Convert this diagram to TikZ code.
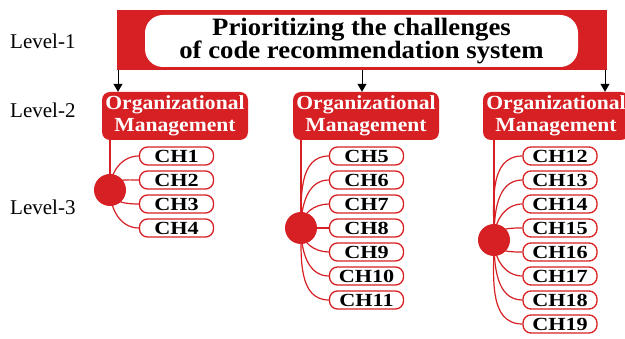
\documentclass[tikz,border=0pt]{standalone}
\usepackage{fontspec}
\setmainfont{Liberation Serif}
\newfontfamily\stretchfont{Liberation Serif}[FakeStretch=1.08]
\newfontfamily\titlefont{Liberation Serif}[FakeStretch=1.07]
\newfontfamily\chfont{Liberation Serif}[FakeStretch=1.2]
\usetikzlibrary{arrows.meta}
\definecolor{mred}{RGB}{214,32,36}
\pgfdeclarelayer{background}
\pgfsetlayers{background,main}
\tikzset{
  levellabel/.style={anchor=west, inner sep=0pt, font=\fontsize{21}{21}\selectfont},
  topbar/.style={fill=mred, minimum width=490pt, minimum height=60pt, inner sep=0pt},
  titlebox/.style={fill=white, rounded corners=18pt, minimum width=433pt, minimum height=52pt, inner sep=0pt, align=center, font=\titlefont\bfseries\fontsize{25}{23.5}\selectfont},
  orgbox/.style={fill=mred, text=white, rounded corners=8pt, minimum width=146pt, minimum height=48pt, inner sep=0pt, align=center, font=\stretchfont\bfseries\fontsize{20}{21.5}\selectfont},
  chbox/.style={draw=mred, line width=1.3pt, fill=white, rounded corners=8pt, minimum width=74pt, minimum height=18pt, inner sep=0pt, font=\chfont\bfseries\fontsize{18.5}{18.5}\selectfont},
  hub/.style={circle, fill=mred, minimum size=32pt, inner sep=0pt},
  conn/.style={draw=mred, line width=1.2pt},
  arr/.style={draw=black, line width=1pt, -{Triangle[length=8pt,width=9pt]}}
}
\begin{document}
\begin{tikzpicture}[x=1pt,y=-1pt]
\useasboundingbox (0,0) rectangle (625,339);
% level labels
\node[levellabel] (l1) at (10,41) {Level-1};
\node[levellabel] (l2) at (10,110) {Level-2};
\node[levellabel] (l3) at (10,207) {Level-3};
% top
\node[topbar] (top) at (362,40) {};
\node[titlebox] (title) at (361.5,41) {Prioritizing the challenges\\of code recommendation system};
% org boxes
\node[orgbox] (org1) at (175,116) {Organizational\\Management};
\node[orgbox] (org2) at (366,116) {Organizational\\Management};
\node[orgbox] (org3) at (556,116) {Organizational\\Management};
% arrows
\coordinate (a1) at (118,0);
\coordinate (a2) at (362,0);
\coordinate (a3) at (605,0);
\draw[arr] (top.south -| a1) -- (org1.north -| a1);
\draw[arr] (top.south -| a2) -- (org2.north -| a2);
\draw[arr] (top.south -| a3) -- (org3.north -| a3);
% hubs
\node[hub] (c1) at (110,190) {};
\node[hub] (c2) at (301,228) {};
\node[hub] (c3) at (494,240) {};
% CH boxes
\foreach \n [count=\i from 0] in {1,...,4}
  \node[chbox] (ch\n) at (176.5,156+24*\i) {CH\n};
\foreach \n [count=\i from 0] in {5,...,11}
  \node[chbox] (ch\n) at (366.5,156+24*\i) {CH\n};
\foreach \n [count=\i from 0] in {12,...,19}
  \node[chbox] (ch\n) at (560,156+24*\i) {CH\n};
\begin{pgfonlayer}{background}
\draw[conn] (org1.south -| c1) -- (c1.center);
\draw[conn] (org2.south -| c2) -- (c2.center);
\draw[conn] (org3.south -| c3) -- (c3.center);
\foreach \n/\a in {1/90,2/90,3/-90,4/-90}
  \draw[conn] (c1.center) to[out=\a,in=180] (ch\n.west);
\foreach \n/\a in {5/90,6/90,7/90,8/0,9/-90,10/-90,11/-90}
  \draw[conn] (c2.center) to[out=\a,in=180] (ch\n.west);
\foreach \n/\a in {12/90,13/90,14/90,15/90,16/-90,17/-90,18/-90,19/-90}
  \draw[conn] (c3.center) to[out=\a,in=180] (ch\n.west);
\end{pgfonlayer}
\end{tikzpicture}
\end{document}
